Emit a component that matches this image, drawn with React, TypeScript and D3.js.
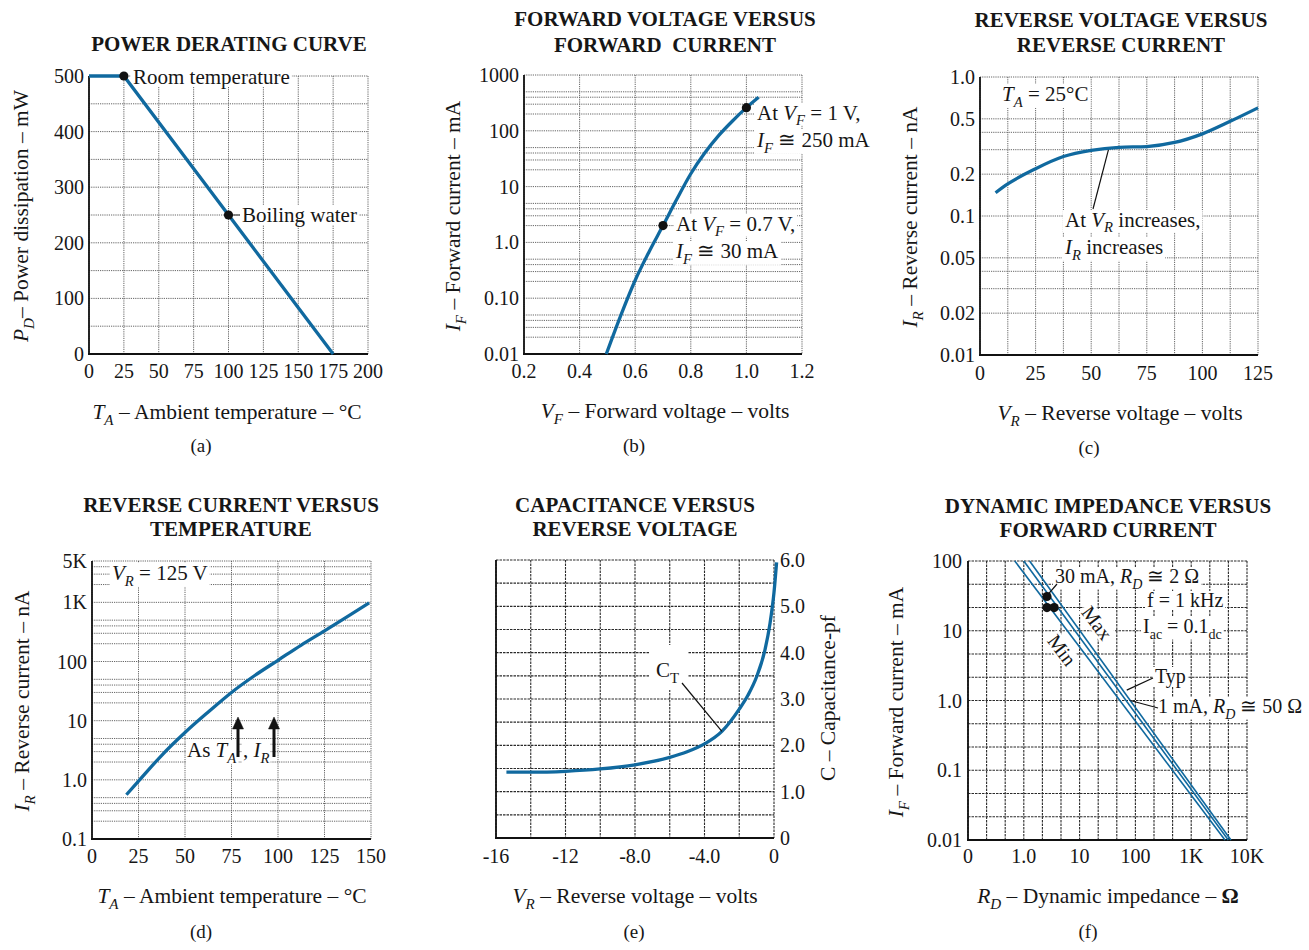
import React, { useLayoutEffect, useRef, useState } from "react";
import * as d3 from "d3";

const FONT = "'Liberation Serif', 'Times New Roman', Times, serif";
const BLUE = "#10699f";
const INK = "#161616";

// ---------- (a) Power derating curve ----------
const derateTemp = [0, 25, 175];
const deratePower = [500, 500, 0];
const derateMarkT = [25, 100];
const derateMarkP = [500, 250];
const aXTicks = [0, 25, 50, 75, 100, 125, 150, 175, 200];
const aYTicks = [0, 100, 200, 300, 400, 500];
const aXGrid = [0, 25, 50, 75, 100, 125, 150, 175, 200];
const aYGrid = [0, 50, 100, 150, 200, 250, 300, 350, 400, 450, 500];

// ---------- (b) Forward voltage vs forward current ----------
const fwdV = [0.496, 0.55, 0.6, 0.65, 0.7, 0.75, 0.8, 0.85, 0.9, 0.95, 1.0, 1.044];
const fwdI = [0.01, 0.052, 0.21, 0.68, 2.0, 6.0, 17, 40, 82, 150, 260, 400];
const fwdMarkV = [1.0, 0.7];
const fwdMarkI = [260, 2.0];
const bXTicks = [0.2, 0.4, 0.6, 0.8, 1.0, 1.2];
const bXLabels = ["0.2", "0.4", "0.6", "0.8", "1.0", "1.2"];
const bYTicks = [0.01, 0.1, 1, 10, 100, 1000];
const bYLabels = ["0.01", "0.10", "1.0", "10", "100", "1000"];

// ---------- (c) Reverse voltage vs reverse current ----------
const revV = [7, 12.5, 25, 37.5, 50, 62.5, 75, 87.5, 100, 112.5, 125];
const revI = [0.147, 0.17, 0.219, 0.268, 0.297, 0.312, 0.316, 0.338, 0.39, 0.48, 0.6];
const cLeader = [58, 0.31];
const cXTicks = [0, 25, 50, 75, 100, 125];
const cYTicks = [0.01, 0.02, 0.05, 0.1, 0.2, 0.5, 1];
const cYLabels = ["0.01", "0.02", "0.05", "0.1", "0.2", "0.5", "1.0"];
const cXGrid = [0, 12.5, 25, 37.5, 50, 62.5, 75, 87.5, 100, 112.5, 125];

// ---------- (d) Reverse current vs temperature ----------
const tempT = [18.5, 25, 37.5, 50, 62.5, 75, 87.5, 100, 112.5, 125, 137.5, 149];
const tempI = [0.56, 0.95, 2.6, 6.3, 14, 30, 58, 105, 190, 330, 580, 980];
const dXTicks = [0, 25, 50, 75, 100, 125, 150];
const dYTicks = [0.1, 1, 10, 100, 1000, 5000];
const dYLabels = ["0.1", "1.0", "10", "100", "1K", "5K"];

// ---------- (e) Capacitance vs reverse voltage ----------
const capV = [-15.4, -14, -12, -10, -8, -6, -5, -4, -3, -2, -1.5, -1, -0.52, -0.23, 0, 0.15];
const capC = [1.42, 1.42, 1.44, 1.49, 1.58, 1.74, 1.86, 2.03, 2.3, 2.78, 3.08, 3.48, 4.06, 4.63, 5.3, 5.95];
const eLeader = [-3, 2.3];
const eXTicks = [-16, -12, -8, -4, 0];
const eXLabels = ["-16", "-12", "-8.0", "-4.0", "0"];
const eYTicks = [0, 1, 2, 3, 4, 5, 6];
const eYLabels = ["0", "1.0", "2.0", "3.0", "4.0", "5.0", "6.0"];
const eXGrid = [-16, -14, -12, -10, -8, -6, -4, -2, 0];
const eYGrid = [0, 0.5, 1, 1.5, 2, 2.5, 3, 3.5, 4, 4.5, 5, 5.5, 6];

// ---------- (f) Dynamic impedance vs forward current ----------
const impI = [100, 0.01];
const impRMin = [0.69, 4030];
const impRTyp = [1.0, 4620];
const impRMax = [1.27, 5150];
const impDotR = [2.6, 2.6, 3.5];
const impDotI = [31, 21.5, 21.5];
const fTypLeader = [70, 1.41];
const fOneLeader = [81, 1.0];
const fXTicks = [0.1, 1, 10, 100, 1000, 10000];
const fXLabels = ["0", "1.0", "10", "100", "1K", "10K"];
const fYTicks = [0.01, 0.1, 1, 10, 100];
const fYLabels = ["0.01", "0.1", "1.0", "10", "100"];

// ---------- helpers ----------
function logGrid(min: number, max: number, mults: number[]) {
  const out: number[] = [];
  for (let e = Math.floor(Math.log10(min)); e <= Math.ceil(Math.log10(max)); e++) {
    for (const m of mults) {
      const v = m * Math.pow(10, e);
      if (v >= min * 0.999 && v <= max * 1.001) out.push(v);
    }
  }
  return out;
}
function thirdsGrid(minExp: number, maxExp: number) {
  const out: number[] = [];
  for (let k = minExp * 3; k <= maxExp * 3; k++) out.push(Math.pow(10, k / 3));
  return out;
}

type Part = { t: string; i?: boolean; s?: boolean; b?: boolean };
const P = (t: string, i = false, s = false, b = false): Part => ({ t, i, s, b });

function Rich(props: {
  x?: number; y?: number; parts: Part[]; size?: number; anchor?: string;
  transform?: string; bold?: boolean; tref?: any; subOff?: number;
}) {
  const { x = 0, y = 0, parts, size = 21, anchor = "start", transform, bold, tref, subOff = 0.28 } = props;
  let sub = false;
  const off = size * subOff;
  return (
    <text ref={tref} x={x} y={y} fontSize={size} textAnchor={anchor as any} transform={transform}
      fontFamily={FONT} fontWeight={bold ? "bold" : "normal"} fill={INK}>
      {parts.map((p, k) => {
        let dy = 0;
        if (p.s && !sub) dy = off;
        else if (!p.s && sub) dy = -off;
        sub = !!p.s;
        return (
          <tspan key={k} dy={dy || undefined} fontStyle={p.i ? "italic" : undefined}
            fontWeight={p.b ? "bold" : undefined}
            fontSize={p.s ? size * 0.7 : undefined}>{p.t}</tspan>
        );
      })}
    </text>
  );
}

// text with a white box behind it (breaks grid lines as in the printed chart)
function Boxed(props: { x?: number; y?: number; parts: Part[]; size?: number; anchor?: string; transform?: string; padX?: number; subOff?: number }) {
  const { transform, padX = 2, ...rest } = props;
  const ref = useRef<SVGTextElement>(null);
  const [bb, setBB] = useState<{ x: number; y: number; w: number; h: number } | null>(null);
  useLayoutEffect(() => {
    if (ref.current) {
      const b = ref.current.getBBox();
      setBB({ x: b.x, y: b.y, w: b.width, h: b.height });
    }
  }, []);
  return (
    <g transform={transform}>
      {bb && <rect x={bb.x - padX} y={bb.y + 2} width={bb.w + 2 * padX} height={Math.max(0, bb.h - 4)} fill="#fff" />}
      <Rich {...rest} tref={ref} />
    </g>
  );
}

type Scale = any;
const lightGrid = { stroke: "#555", strokeWidth: 0.9, strokeDasharray: "1.2 1" };
const darkGrid = { stroke: "#2a2a2a", strokeWidth: 1.1, strokeDasharray: "2.5 1" };

function Grid({ xs, ys, xScale, yScale, style }: { xs: number[]; ys: number[]; xScale: Scale; yScale: Scale; style: any }) {
  const [x0, x1] = xScale.range();
  const [y0, y1] = yScale.range();
  return (
    <g>
      {xs.map((v, i) => (
        <line key={"x" + i} x1={xScale(v)} x2={xScale(v)} y1={y1} y2={y0} {...style} />
      ))}
      {ys.map((v, i) => (
        <line key={"y" + i} x1={x0} x2={x1} y1={yScale(v)} y2={yScale(v)} {...style} />
      ))}
    </g>
  );
}

function Axes({ xScale, yScale }: { xScale: Scale; yScale: Scale }) {
  const [x0, x1] = xScale.range();
  const [y0, y1] = yScale.range();
  return (
    <g stroke="#111" strokeWidth={1.8} fill="none">
      <line x1={x0} x2={x0} y1={y1} y2={y0 + 0.9} />
      <line x1={x0 - 0.9} x2={x1} y1={y0} y2={y0} />
    </g>
  );
}

function XTicks({ ticks, labels, scale, y }: { ticks: number[]; labels?: string[]; scale: Scale; y: number }) {
  return (
    <g fontFamily={FONT} fontSize={20} fill={INK} textAnchor="middle">
      {ticks.map((t, i) => (
        <text key={i} x={scale(t)} y={y}>{labels ? labels[i] : String(t)}</text>
      ))}
    </g>
  );
}
function YTicks({ ticks, labels, scale, x, anchor = "end" }: { ticks: number[]; labels?: string[]; scale: Scale; x: number; anchor?: string }) {
  return (
    <g fontFamily={FONT} fontSize={20} fill={INK} textAnchor={anchor as any}>
      {ticks.map((t, i) => (
        <text key={i} x={x} y={scale(t)} dy="0.35em">{labels ? labels[i] : String(t)}</text>
      ))}
    </g>
  );
}

function Title({ lines, x, ys }: { lines: string[]; x: number; ys: number[] }) {
  return (
    <g fontFamily={FONT} fontSize={21} fontWeight="bold" fill={INK} textAnchor="middle">
      {lines.map((l, i) => (
        <text key={i} x={x} y={ys[i]} style={{ whiteSpace: "pre" }}>{l}</text>
      ))}
    </g>
  );
}

function Letter({ t, x, y }: { t: string; x: number; y: number }) {
  return <text x={x} y={y} fontFamily={FONT} fontSize={19} fill={INK} textAnchor="middle">{t}</text>;
}

function Dot({ cx, cy }: { cx: number; cy: number }) {
  return <circle cx={cx} cy={cy} r={4.6} fill="#111" />;
}

function UpArrow({ x, yBase, yTip }: { x: number; yBase: number; yTip: number }) {
  return (
    <g fill="#111" stroke="#111">
      <line x1={x} x2={x} y1={yBase} y2={yTip + 8} strokeWidth={3} />
      <polygon points={`${x - 5.5},${yTip + 12} ${x + 5.5},${yTip + 12} ${x},${yTip}`} strokeWidth={0.5} />
    </g>
  );
}

function zip(a: number[], b: number[]): [number, number][] {
  return a.map((v, i) => [v, b[i]]);
}

const AX = 21.5; // axis-title font size

export default function App() {
  // scales
  const xA = d3.scaleLinear().domain([0, 200]).range([89, 368]);
  const yA = d3.scaleLinear().domain([0, 500]).range([354, 76]);
  const xB = d3.scaleLinear().domain([0.2, 1.2]).range([524, 802]);
  const yB = d3.scaleLog().domain([0.01, 1000]).range([354, 75]);
  const xC = d3.scaleLinear().domain([0, 125]).range([980, 1258]);
  const yC = d3.scaleLog().domain([0.01, 1]).range([355, 77]);
  const xD = d3.scaleLinear().domain([0, 150]).range([92, 371]);
  const yD = d3.scaleLog().domain([0.1, 5000]).range([839, 561]);
  const xE = d3.scaleLinear().domain([-16, 0]).range([496, 774]);
  const yE = d3.scaleLinear().domain([0, 6]).range([838, 560]);
  const xF = d3.scaleLog().domain([0.1, 10000]).range([968, 1247]);
  const yF = d3.scaleLog().domain([0.01, 100]).range([840, 561]);

  const mk = (xs: Scale, ys: Scale, smooth = true) =>
    d3.line<[number, number]>().x((d) => xs(d[0])).y((d) => ys(d[1])).curve(smooth ? d3.curveMonotoneX : d3.curveLinear);

  const pathA = mk(xA, yA, false)(zip(derateTemp, deratePower)) || "";
  const pathB = mk(xB, yB)(zip(fwdV, fwdI)) || "";
  const pathC = mk(xC, yC)(zip(revV, revI)) || "";
  const pathD = mk(xD, yD)(zip(tempT, tempI)) || "";
  const pathE = mk(xE, yE)(zip(capV, capC)) || "";
  const lineF = mk(xF, yF, false);
  const fLines = [impRMin, impRTyp, impRMax].map((r) => lineF(zip(r, impI)) || "");

  const logMults = [1, 2, 3, 4, 5];
  const curve = { fill: "none", stroke: BLUE, strokeWidth: 3.3 };

  return (
    <svg width={1309} height={950} style={{ position: "absolute", left: 0, top: 0, background: "#fff" }}>
      <rect x={0} y={0} width={1309} height={950} fill="#fff" />

      {/* ================= (a) ================= */}
      <Title lines={["POWER DERATING CURVE"]} x={229} ys={[51]} />
      <Grid xs={aXGrid} ys={aYGrid} xScale={xA} yScale={yA} style={lightGrid} />
      <Axes xScale={xA} yScale={yA} />
      <Boxed x={133} y={84} parts={[P("Room temperature")]} />
      <line x1={xA(100) + 4} x2={242} y1={yA(250)} y2={yA(250)} stroke="#333" strokeWidth={1} />
      <Boxed x={242} y={222} parts={[P("Boiling water")]} />
      <path d={pathA} {...curve} />
      {derateMarkT.map((t, i) => <Dot key={i} cx={xA(t)} cy={yA(derateMarkP[i])} />)}
      <YTicks ticks={aYTicks} scale={yA} x={84} />
      <XTicks ticks={aXTicks} scale={xA} y={378} />
      <Rich x={227} y={419} size={AX} anchor="middle" parts={[P("T", true), P("A", true, true), P(" – Ambient temperature – °C")]} />
      <Rich transform="translate(28,216) rotate(-90)" size={AX} anchor="middle" parts={[P("P", true), P("D", true, true), P("– Power dissipation – mW")]} />
      <Letter t="(a)" x={201} y={452} />

      {/* ================= (b) ================= */}
      <Title lines={["FORWARD VOLTAGE VERSUS", "FORWARD  CURRENT"]} x={665} ys={[26, 52]} />
      <Grid xs={bXTicks} ys={logGrid(0.01, 1000, logMults)} xScale={xB} yScale={yB} style={lightGrid} />
      <Axes xScale={xB} yScale={yB} />
      <Boxed x={757} y={120} subOff={0.22} parts={[P("At "), P("V", true), P("F", true, true), P(" = 1 V,")]} />
      <Boxed x={757} y={147} parts={[P("I", true), P("F", true, true), P(" ≅ 250 mA")]} />
      <Boxed x={676} y={231} subOff={0.22} parts={[P("At "), P("V", true), P("F", true, true), P(" = 0.7 V,")]} />
      <Boxed x={676} y={258} parts={[P("I", true), P("F", true, true), P(" ≅ 30 mA")]} />
      <path d={pathB} {...curve} />
      {fwdMarkV.map((v, i) => <Dot key={i} cx={xB(v)} cy={yB(fwdMarkI[i])} />)}
      <YTicks ticks={bYTicks} labels={bYLabels} scale={yB} x={519} />
      <XTicks ticks={bXTicks} labels={bXLabels} scale={xB} y={378} />
      <Rich x={665} y={418} size={AX} anchor="middle" parts={[P("V", true), P("F", true, true), P(" – Forward voltage – volts")]} />
      <Rich transform="translate(460,216) rotate(-90)" size={AX} anchor="middle" parts={[P("I", true), P("F", true, true), P(" – Forward current – mA")]} />
      <Letter t="(b)" x={634} y={452} />

      {/* ================= (c) ================= */}
      <Title lines={["REVERSE VOLTAGE VERSUS", "REVERSE CURRENT"]} x={1121} ys={[27, 52]} />
      <Grid xs={cXGrid} ys={logGrid(0.01, 1, logMults)} xScale={xC} yScale={yC} style={lightGrid} />
      <Axes xScale={xC} yScale={yC} />
      <Boxed x={1002} y={101} parts={[P("T", true), P("A", true, true), P(" = 25°C")]} />
      <Boxed x={1065} y={227} subOff={0.22} parts={[P("At "), P("V", true), P("R", true, true), P(" increases,")]} />
      <Boxed x={1065} y={254} parts={[P("I", true), P("R", true, true), P(" increases")]} />
      <line x1={1093} y1={209} x2={xC(cLeader[0])} y2={yC(cLeader[1])} stroke="#111" strokeWidth={1.2} />
      <path d={pathC} {...curve} />
      <YTicks ticks={cYTicks} labels={cYLabels} scale={yC} x={975} />
      <XTicks ticks={cXTicks} scale={xC} y={380} />
      <Rich x={1120} y={420} size={AX} anchor="middle" parts={[P("V", true), P("R", true, true), P(" – Reverse voltage – volts")]} />
      <Rich transform="translate(917,217) rotate(-90)" size={AX} anchor="middle" parts={[P("I", true), P("R", true, true), P(" – Reverse current – nA")]} />
      <Letter t="(c)" x={1089} y={454} />

      {/* ================= (d) ================= */}
      <Title lines={["REVERSE CURRENT VERSUS", "TEMPERATURE"]} x={231} ys={[512, 536]} />
      <Grid xs={dXTicks} ys={logGrid(0.1, 5000, logMults)} xScale={xD} yScale={yD} style={lightGrid} />
      <Axes xScale={xD} yScale={yD} />
      <Boxed x={112} y={580} parts={[P("V", true), P("R", true, true), P(" = 125 V")]} />
      <path d={pathD} {...curve} />
      <Boxed x={187} y={757} padX={1} parts={[P("As "), P("T", true), P("A", true, true)]} />
      <Boxed x={243} y={757} padX={1} parts={[P(", "), P("I", true), P("R", true, true)]} />
      <UpArrow x={238} yBase={757} yTip={717} />
      <UpArrow x={274} yBase={757} yTip={717} />
      <YTicks ticks={dYTicks} labels={dYLabels} scale={yD} x={87} />
      <XTicks ticks={dXTicks} scale={xD} y={863} />
      <Rich x={232} y={903} size={AX} anchor="middle" parts={[P("T", true), P("A", true, true), P(" – Ambient temperature – °C")]} />
      <Rich transform="translate(29,701) rotate(-90)" size={AX} anchor="middle" parts={[P("I", true), P("R", true, true), P(" – Reverse current – nA")]} />
      <Letter t="(d)" x={201} y={938} />

      {/* ================= (e) ================= */}
      <Title lines={["CAPACITANCE VERSUS", "REVERSE VOLTAGE"]} x={635} ys={[512, 536]} />
      <Grid xs={eXGrid} ys={eYGrid} xScale={xE} yScale={yE} style={darkGrid} />
      <Axes xScale={xE} yScale={yE} />
      <rect x={650} y={645} width={38} height={45} fill="#fff" />
      <path d={pathE} {...curve} />
      <line x1={682} y1={683} x2={xE(eLeader[0])} y2={yE(eLeader[1])} stroke="#111" strokeWidth={1.2} />
      <Rich x={656} y={677} parts={[P("C"), P("T", false, true)]} />
      <YTicks ticks={eYTicks} labels={eYLabels} scale={yE} x={780} anchor="start" />
      <XTicks ticks={eXTicks} labels={eXLabels} scale={xE} y={863} />
      <Rich x={635} y={903} size={AX} anchor="middle" parts={[P("V", true), P("R", true, true), P(" – Reverse voltage – volts")]} />
      <Rich transform="translate(835,698) rotate(-90)" size={AX} anchor="middle" parts={[P("C – Capacitance-pf")]} />
      <Letter t="(e)" x={634} y={938} />

      {/* ================= (f) ================= */}
      <Title lines={["DYNAMIC IMPEDANCE VERSUS", "FORWARD CURRENT"]} x={1108} ys={[513, 537]} />
      <Grid xs={thirdsGrid(-1, 4)} ys={thirdsGrid(-2, 2)} xScale={xF} yScale={yF} style={darkGrid} />
      <Axes xScale={xF} yScale={yF} />
      <Boxed x={1055} y={583} size={20} parts={[P("30 mA, "), P("R", true), P("D", true, true), P(" ≅ 2 Ω")]} />
      <Boxed x={1147} y={607} size={20} parts={[P("f = 1 kHz")]} />
      <Boxed x={1143} y={633} size={20} parts={[P("I"), P("ac", false, true), P(" = 0.1"), P("dc", false, true)]} />
      <Boxed x={1155} y={683} size={20} parts={[P("Typ")]} />
      <Boxed x={1158} y={713} size={20} parts={[P("1 mA, "), P("R", true), P("D", true, true), P(" ≅ 50 Ω")]} />
      <Boxed transform="translate(1097,623) rotate(53)" size={20} anchor="middle" y={7} parts={[P("Max")]} />
      <Boxed transform="translate(1062,650) rotate(53)" size={20} anchor="middle" y={7} parts={[P("Min")]} />
      {fLines.map((d, i) => <path key={i} d={d} fill="none" stroke={BLUE} strokeWidth={1.6} />)}
      {impDotR.map((r, i) => <Dot key={i} cx={xF(r)} cy={yF(impDotI[i])} />)}
      <line x1={1057} y1={584} x2={xF(impDotR[0]) + 2} y2={yF(impDotI[0]) - 3} stroke="#111" strokeWidth={1.2} />
      <line x1={1153} y1={678} x2={xF(fTypLeader[0])} y2={yF(fTypLeader[1])} stroke="#111" strokeWidth={1.2} />
      <line x1={1158} y1={708} x2={xF(fOneLeader[0])} y2={yF(fOneLeader[1])} stroke="#111" strokeWidth={1.2} />
      <YTicks ticks={fYTicks} labels={fYLabels} scale={yF} x={962} />
      <XTicks ticks={fXTicks} labels={fXLabels} scale={xF} y={863} />
      <Rich x={1108} y={903} size={AX} anchor="middle" parts={[P("R", true), P("D", true, true), P(" – Dynamic impedance – "), P("Ω", false, false, true)]} />
      <Rich transform="translate(903,702) rotate(-90)" size={AX} anchor="middle" parts={[P("I", true), P("F", true, true), P(" – Forward current – mA")]} />
      <Letter t="(f)" x={1088} y={938} />
    </svg>
  );
}
